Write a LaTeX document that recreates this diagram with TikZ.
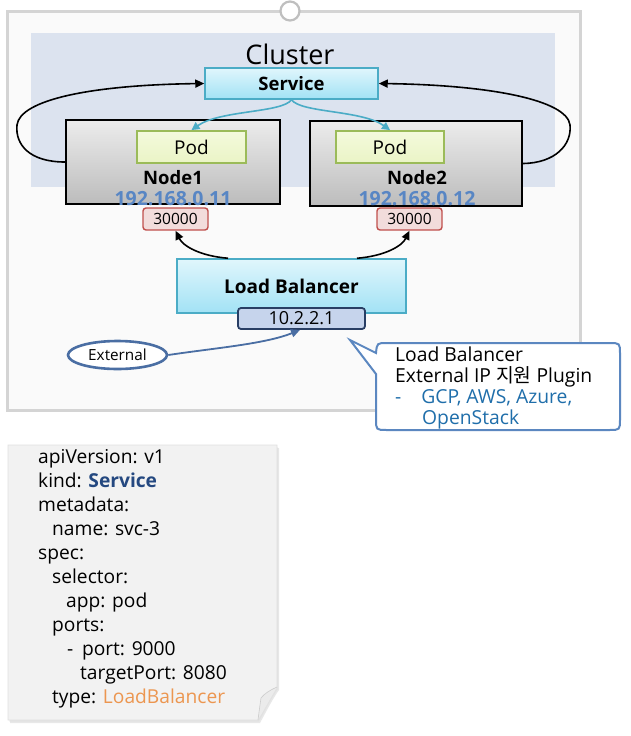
\documentclass[tikz,border=0pt]{standalone}
\usepackage{fontspec}
\setmainfont{Open Sans}
\newfontfamily\kr{Noto Sans CJK KR}
\usetikzlibrary{arrows.meta,shapes.geometric}
\definecolor{tealb}{RGB}{75,172,198}
\definecolor{svtop}{RGB}{224,246,252}
\definecolor{svbot}{RGB}{162,226,245}
\definecolor{ndtop}{RGB}{236,236,236}
\definecolor{ndbot}{RGB}{188,188,188}
\definecolor{podb}{RGB}{155,187,89}
\definecolor{podf}{RGB}{234,244,198}
\definecolor{podt}{RGB}{244,250,220}
\definecolor{portb}{RGB}{192,80,77}
\definecolor{portf}{RGB}{242,220,219}
\definecolor{ipb}{RGB}{40,62,100}
\definecolor{ipf}{RGB}{198,212,236}
\definecolor{clbg}{RGB}{220,227,239}
\definecolor{framec}{RGB}{212,212,212}
\definecolor{extb}{RGB}{74,110,163}
\definecolor{callb}{RGB}{91,135,192}
\definecolor{iplab}{RGB}{88,134,196}
\definecolor{gcpc}{RGB}{31,110,170}
\definecolor{kindc}{RGB}{36,72,128}
\definecolor{lbc}{RGB}{236,150,80}
\definecolor{notef}{RGB}{242,242,242}
\definecolor{innerbg}{RGB}{250,250,250}
\begin{document}
\begin{tikzpicture}[x=1pt,y=-1pt,
  box/.style={draw, rectangle, inner sep=0pt, align=center},
  svc/.style={box, draw=tealb, line width=1.5pt, top color=svtop, bottom color=svbot},
  nodebox/.style={box, draw=black, line width=2.2pt, top color=ndtop, bottom color=ndbot},
  podbox/.style={box, draw=podb, line width=1.8pt, top color=podt, bottom color=podf},
  portbox/.style={box, draw=portb, line width=1.4pt, fill=portf, rounded corners=3pt},
  ipbox/.style={box, draw=ipb, line width=1.8pt, fill=ipf, rounded corners=3pt},
  blk/.style={draw=black, line width=1.6pt, -{Triangle[length=9pt,width=8pt]}},
  tealarr/.style={draw=tealb, line width=1.6pt, -{Triangle[length=8pt,width=8pt]}},
  bluearr/.style={draw=extb, line width=1.8pt, -{Triangle[length=9pt,width=8pt]}},
  yaml/.style={anchor=base west, inner sep=0pt, font=\fontsize{19.2}{22}\selectfont},
  calltxt/.style={anchor=base west, inner sep=0pt, font=\fontsize{19.3}{22}\selectfont},
  lbl/.style={inner sep=0pt}
]
\useasboundingbox (0,0) rectangle (630,736);
\fill[white] (0,0) rectangle (630,736);
% outer frame
\draw[framec, line width=3pt, fill=innerbg] (7,11) rectangle (580,410);
\draw[framec!90!black, line width=2.2pt, fill=white] (290,11) circle (9.5);
% cluster area
\fill[clbg] (31,33) rectangle (555,187);
\node[lbl, font=\fontsize{27}{30}\selectfont] (cluster) at (290,54) {Cluster};
% nodes
\node[nodebox, minimum width=214pt, minimum height=84pt] (node1) at (173,162) {};
\node[nodebox, minimum width=212pt, minimum height=85pt] (node2) at (416,163.5) {};
\node[svc, minimum width=173pt, minimum height=31pt, font=\bfseries\fontsize{18.5}{20}\selectfont] (service) at (291.5,83.5) {Service};
\node[podbox, minimum width=109pt, minimum height=32pt, font=\fontsize{19}{20}\selectfont] (pod1) at (191.5,147) {Pod};
\node[podbox, minimum width=108pt, minimum height=32pt, font=\fontsize{19}{20}\selectfont] (pod2) at (390,147) {Pod};
\node[lbl, font=\bfseries\fontsize{18.5}{20}\selectfont] (n1lab) at (173,178) {Node1};
\node[lbl, font=\bfseries\fontsize{18.5}{20}\selectfont] (n2lab) at (417,178) {Node2};
\node[lbl, text=iplab, font=\bfseries\fontsize{19.5}{20}\selectfont] (ip1) at (173,199) {192.168.0.11};
\node[lbl, text=iplab, font=\bfseries\fontsize{19.5}{20}\selectfont] (ip2) at (417,199) {192.168.0.12};
\node[portbox, minimum width=65pt, minimum height=22pt, font=\fontsize{15.5}{16}\selectfont] (port1) at (175.5,219) {30000};
\node[portbox, minimum width=65pt, minimum height=22pt, font=\fontsize{15.5}{16}\selectfont] (port2) at (409.5,219) {30000};
% load balancer
\node[svc, minimum width=229pt, minimum height=54pt, font=\bfseries\fontsize{19}{20}\selectfont] (lb) at (291.5,286) {Load Balancer};
\node[ipbox, minimum width=127pt, minimum height=21pt, font=\fontsize{18}{18}\selectfont] (ip) at (301.5,318.5) {10.2.2.1};
% external
\node[ellipse, draw=extb, line width=2.6pt, fill=white, minimum width=99pt, minimum height=28pt, inner sep=0pt, font=\fontsize{15.3}{16}\selectfont] (ext) at (117.5,355) {External};
% connectors
\draw[tealarr] (service.south) .. controls (282,113) and (220,110) .. (pod1.north);
\draw[tealarr] (service.south) .. controls (301,113) and (362,110) .. (pod2.north);
\draw[blk] (node1.west) .. controls (30,162) and (15,145) .. (17,125) .. controls (20,100) and (90,85) .. (service.west);
\draw[blk] (node2.east) .. controls (555,163) and (572,145) .. (570,125) .. controls (567,100) and (490,85) .. (service.east);
\draw[blk] ([xshift=-63.5pt]lb.north) .. controls (200,256) and (183,246) .. (port1.south);
\draw[blk] ([xshift=65.5pt]lb.north) .. controls (385,256) and (402,246) .. (port2.south);
\draw[bluearr] (ext.east) .. controls (215,348) and (265,344) .. ([xshift=-1.5pt]ip.south);
% callout
\draw[callb, line width=2pt, fill=white] (350,340) -- (376,374) -- (376,419) .. controls (376,430) .. (387,430) -- (609,430) .. controls (620,430) .. (620,419) -- (620,354) .. controls (620,343) .. (609,343) -- (387,343) .. controls (377,343) .. (376,353) -- cycle;
\node[calltxt] (cl1) at (395,361) {Load Balancer};
\node[calltxt] (cl2) at (395,382) {External IP {\kr 지원} Plugin};
\node[calltxt, text=gcpc] (cl3) at (395,403) {-\hspace{20pt}GCP, AWS, Azure,};
\node[calltxt, text=gcpc] (cl4) at (422,424) {OpenStack};
% yaml note
\fill[black!25, opacity=0.35] (10,448) -- (279,448) -- (279,690) .. controls (272,700) and (266,712) .. (260,723) -- (10,723) -- cycle;
\fill[black!15, opacity=0.35] (9,447) -- (278,447) -- (278,689) .. controls (271,699) and (265,711) .. (259,721.5) -- (9,721.5) -- cycle;
\draw[black!12, line width=0.6pt, fill=notef] (8,445) -- (277,445) -- (277,687) .. controls (270,697) and (264,709) .. (258,720) -- (8,720) -- cycle;
\draw[black!20, line width=0.6pt, fill=white!92!black] (277,687) .. controls (270,690) and (264,694) .. (261,698) .. controls (260,705) and (259,712) .. (258,720);
\node[yaml] (y1) at (38,463) {apiVersion: v1};
\node[yaml] (y2) at (38,487) {kind: \textcolor{kindc}{\bfseries Service}};
\node[yaml] (y3) at (38,511) {metadata:};
\node[yaml] (y4) at (52,535) {name: svc-3};
\node[yaml] (y5) at (38,559) {spec:};
\node[yaml] (y6) at (52,583) {selector:};
\node[yaml] (y7) at (66,607) {app: pod};
\node[yaml] (y8) at (52,631) {ports:};
\node[yaml] (y9) at (67,655) {-\hspace{0.45em}port: 9000};
\node[yaml] (y10) at (80,679) {targetPort: 8080};
\node[yaml] (y11) at (52,703) {type: \textcolor{lbc}{LoadBalancer}};
\end{tikzpicture}
\end{document}
